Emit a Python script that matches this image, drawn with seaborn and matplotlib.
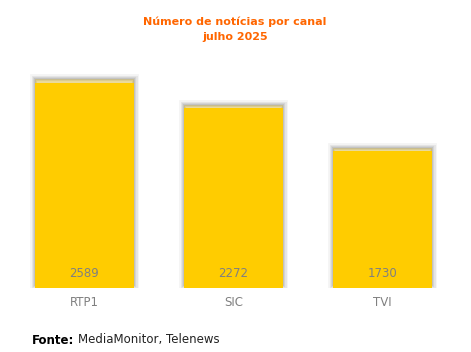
import matplotlib
matplotlib.use("Agg")
import matplotlib.pyplot as plt
import matplotlib.patheffects as pe
import pandas as pd
import seaborn as sns

# Dados.
canais = ["RTP1", "SIC", "TVI"]
noticias = [2589, 2272, 1730]

AMARELO = "#FFCC00"
LARANJA = "#FF6600"
CINZA = "#808080"

sns.set_theme(style="white")
plt.rcParams["font.family"] = "DejaVu Sans"

df = pd.DataFrame({"canal": canais, "n": noticias})

fig = plt.figure(figsize=(4.71, 3.52), dpi=100)
ax = fig.add_axes([10 / 471, 64 / 352, 447 / 471, 228 / 352])

sns.barplot(data=df, x="canal", y="n", color=AMARELO, saturation=1,
            width=0.664, ax=ax)

# Sombra difusa, mais marcada no topo das barras.
sombra = [pe.Stroke(linewidth=w, foreground="#444444", alpha=a,
                    offset=(0, 2.5))
          for w, a in ((7, 0.06), (5, 0.08), (3, 0.10), (1.5, 0.12))]
for p in ax.patches:
    p.set_path_effects(sombra + [pe.Normal()])
    p.set_linewidth(0)

for i, v in enumerate(noticias):
    ax.annotate(str(v), (i, 0), xytext=(0, 6), textcoords="offset points",
                ha="center", va="bottom", fontsize=8.5, color=CINZA)

ax.set_xlim(-0.5, 2.5)
ax.set_ylim(0, 2879)
ax.set_xlabel("")
ax.set_ylabel("")
ax.set_yticks([])
ax.tick_params(axis="x", length=0, pad=5.5, labelsize=8.5, labelcolor=CINZA)
for s in ax.spines.values():
    s.set_visible(False)

fig.text(235 / 471, 1 - 22 / 352, "Número de notícias por canal",
         ha="center", va="center", fontsize=8, fontweight="bold", color=LARANJA)
fig.text(235 / 471, 1 - 37 / 352, "julho 2025",
         ha="center", va="center", fontsize=8, fontweight="bold", color=LARANJA)

fonte = fig.text(32 / 471, 1 - 340 / 352, "Fonte:", ha="left", va="center",
                 fontsize=8.5, fontweight="bold", color="black")
fig.canvas.draw()
bb = fonte.get_window_extent()
fig.text((bb.x1 + 4) / 471, 1 - 340 / 352, "MediaMonitor, Telenews",
         ha="left", va="center", fontsize=8.5, color="#222222")

fig.savefig("out.png", dpi=100)
